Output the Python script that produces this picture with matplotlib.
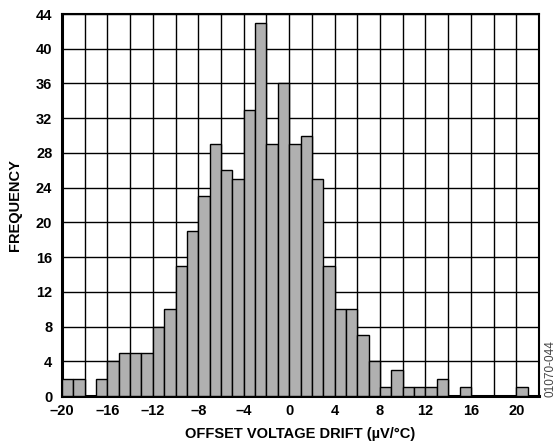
import numpy as np
import matplotlib.pyplot as plt
from matplotlib.ticker import FuncFormatter

# ====> histogram data (bins of width 1 uV/C, left edges)
bin_left = list(range(-20, 22))
frequency = [2, 2, 0, 2, 4, 5, 5, 5, 8, 10, 15, 19, 23, 29, 26, 25, 33, 43, 29, 36,
             29, 30, 25, 15, 10, 10, 7, 4, 1, 3, 1, 1, 1, 2, 0, 1, 0, 0, 0, 0, 1, 0]
x_ticks = [-20, -16, -12, -8, -4, 0, 4, 8, 12, 16, 20]
y_ticks = [0, 4, 8, 12, 16, 20, 24, 28, 32, 36, 40, 44]

plt.rcParams['font.family'] = ['Liberation Sans', 'DejaVu Sans']

fig = plt.figure(figsize=(5.55, 4.45), dpi=100)
ax = fig.add_axes([0.1117, 0.110, 0.8595, 0.8585])

ax.bar(bin_left, frequency, width=1.0, align='edge', color='#b0b0b0',
       edgecolor='black', linewidth=1.0, zorder=3)

ax.set_xlim(-20, 22)
ax.set_ylim(0, 44)
ax.set_xticks(x_ticks)
ax.set_xticks(np.arange(-20, 23, 2), minor=True)
ax.set_yticks(y_ticks)
ax.grid(True, which='both', axis='x', color='black', linewidth=1.0, zorder=0)
ax.grid(True, which='major', axis='y', color='black', linewidth=1.0, zorder=0)
ax.tick_params(which='both', length=0, labelsize=10.5)
ax.tick_params(axis='x', pad=6)
ax.tick_params(axis='y', pad=7)
ax.xaxis.set_major_formatter(FuncFormatter(lambda v, p: f'{int(v)}'.replace('-', '\u2013')))
for lab in ax.get_xticklabels() + ax.get_yticklabels():
    lab.set_fontweight('bold')

for side in ['top', 'right']:
    ax.spines[side].set_linewidth(1.5)
for side in ['left', 'bottom']:
    ax.spines[side].set_linewidth(2.2)
ax.set_axisbelow(True)

ax.set_xlabel('OFFSET VOLTAGE DRIFT (\u00b5V/\u00b0C)', fontsize=10.5,
              fontweight='bold', labelpad=6)
ax.set_ylabel('FREQUENCY', fontsize=10.5, fontweight='bold', labelpad=10)
fig.text(0.991, 0.171, '01070-044', rotation=90, fontsize=8.5, color='#444444',
         ha='center', va='center')

plt.savefig('out.png', dpi=100)
plt.close()
